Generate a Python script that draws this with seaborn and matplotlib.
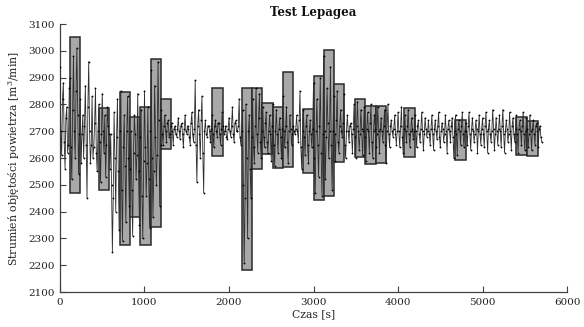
import numpy as np
import pandas as pd
import matplotlib
matplotlib.use("Agg")
import matplotlib.pyplot as plt
import seaborn as sns

# ---- data ----
sample_step = 10  # s
flow = [
    2940, 2700, 2610, 2820, 2880, 2660, 2560, 2750, 2790, 2620, 2650, 2860, 2900, 2640, 2520, 2780, 2980, 2700, 2600, 2850,
    3010, 2760, 2540, 2690, 2820, 2580, 2690, 2760, 2600, 2720, 2870, 2650, 2450, 2790, 2960, 2700, 2580, 2650, 2830, 2600,
    2640, 2730, 2860, 2620, 2550, 2700, 2800, 2660, 2510, 2690, 2840, 2700, 2620, 2760, 2530, 2650, 2790, 2720, 2690, 2560,
    2690, 2500, 2250, 2450, 2770, 2600, 2400, 2680, 2820, 2550, 2330, 2700, 2850, 2480, 2290, 2640, 2760, 2570, 2360, 2700,
    2830, 2600, 2420, 2560, 2700, 2480, 2310, 2620, 2760, 2690, 2520, 2610, 2840, 2550, 2350, 2680, 2780, 2460, 2300, 2590,
    2850, 2640, 2460, 2580, 2790, 2520, 2340, 2700, 2930, 2600, 2380, 2550, 2870, 2680, 2500, 2610, 2960, 2740, 2420, 2650,
    2780, 2690, 2650, 2720, 2760, 2700, 2660, 2730, 2740, 2680, 2690, 2720, 2730, 2700, 2650, 2710, 2720, 2690, 2680, 2710,
    2750, 2700, 2670, 2720, 2730, 2690, 2640, 2710, 2760, 2700, 2690, 2720, 2710, 2680, 2650, 2730, 2770, 2690, 2660, 2710,
    2890, 2650, 2510, 2720, 2780, 2690, 2600, 2740, 2830, 2620, 2470, 2700, 2740, 2690, 2680, 2720, 2720, 2700, 2660, 2710,
    2760, 2690, 2640, 2720, 2740, 2700, 2680, 2730, 2730, 2690, 2650, 2710, 2770, 2720, 2690, 2700, 2720, 2680, 2670, 2710,
    2750, 2700, 2680, 2720, 2790, 2690, 2660, 2730, 2740, 2700, 2700, 2720, 2820, 2680, 2650, 2700, 2780, 2500, 2210, 2450,
    2800, 2600, 2300, 2700, 2760, 2560, 2450, 2680, 2820, 2640, 2580, 2720, 2860, 2690, 2620, 2750, 2840, 2660, 2600, 2700,
    2790, 2680, 2640, 2730, 2770, 2660, 2620, 2700, 2760, 2690, 2590, 2720, 2800, 2650, 2570, 2700, 2780, 2690, 2620, 2710,
    2750, 2680, 2600, 2710, 2830, 2700, 2640, 2720, 2790, 2660, 2580, 2700, 2760, 2710, 2650, 2690, 2720, 2700, 2690, 2710,
    2760, 2700, 2660, 2740, 2850, 2640, 2560, 2700, 2780, 2680, 2610, 2720, 2760, 2650, 2580, 2700, 2740, 2690, 2640, 2710,
    2880, 2600, 2470, 2700, 2820, 2650, 2530, 2720, 2900, 2620, 2460, 2690, 2980, 2700, 2520, 2680, 2860, 2730, 2600, 2700,
    2940, 2650, 2480, 2700, 2830, 2690, 2590, 2740, 2850, 2660, 2620, 2720, 2780, 2700, 2680, 2730, 2840, 2650, 2600, 2700,
    2760, 2700, 2660, 2720, 2730, 2690, 2620, 2710, 2800, 2680, 2600, 2720, 2810, 2700, 2630, 2690, 2780, 2710, 2610, 2700,
    2790, 2680, 2590, 2710, 2770, 2700, 2620, 2730, 2800, 2660, 2600, 2700, 2760, 2710, 2640, 2690, 2790, 2700, 2620, 2710,
    2750, 2700, 2660, 2720, 2780, 2650, 2580, 2700, 2800, 2690, 2640, 2720, 2740, 2700, 2680, 2710, 2760, 2690, 2650, 2700,
    2770, 2700, 2640, 2720, 2790, 2680, 2620, 2710, 2760, 2700, 2660, 2720, 2780, 2690, 2640, 2700, 2750, 2710, 2670, 2700,
    2760, 2700, 2640, 2720, 2740, 2690, 2660, 2710, 2770, 2700, 2630, 2690, 2750, 2710, 2680, 2700, 2740, 2690, 2650, 2710,
    2760, 2690, 2630, 2710, 2740, 2700, 2670, 2720, 2770, 2680, 2640, 2700, 2730, 2710, 2660, 2690, 2760, 2700, 2620, 2710,
    2740, 2700, 2660, 2720, 2750, 2680, 2600, 2700, 2760, 2690, 2610, 2710, 2740, 2700, 2650, 2720, 2770, 2690, 2640, 2700,
    2730, 2700, 2650, 2720, 2770, 2690, 2630, 2710, 2750, 2700, 2660, 2690, 2740, 2710, 2620, 2700, 2760, 2690, 2650, 2710,
    2750, 2690, 2640, 2720, 2770, 2700, 2620, 2710, 2740, 2690, 2660, 2700, 2780, 2710, 2630, 2690, 2750, 2700, 2650, 2710,
    2760, 2700, 2640, 2720, 2780, 2690, 2620, 2700, 2740, 2710, 2660, 2690, 2770, 2700, 2630, 2720, 2750, 2690, 2660, 2710,
    2760, 2690, 2620, 2710, 2740, 2700, 2650, 2720, 2770, 2690, 2630, 2700, 2750, 2710, 2640, 2690, 2760, 2700, 2630, 2710,
    2740, 2690, 2650, 2720, 2730, 2700, 2640, 2710, 2720, 2680, 2660,
]

box_start = [120, 460, 705, 830, 950, 1075, 1195, 1800, 2150, 2275, 2395, 2515,
             2635, 2880, 3000, 3120, 3245, 3485, 3610, 3735, 4070, 4675, 5400, 5530]
box_end = [240, 585, 830, 950, 1075, 1195, 1315, 1925, 2275, 2395, 2515, 2635,
           2755, 3000, 3120, 3240, 3365, 3610, 3735, 3855, 4195, 4805, 5530, 5655]
box_low = [2470, 2480, 2275, 2380, 2277, 2343, 2633, 2607, 2183, 2560, 2614, 2561,
           2567, 2545, 2443, 2457, 2586, 2604, 2576, 2583, 2605, 2592, 2613, 2608]
box_high = [3052, 2786, 2845, 2752, 2792, 2970, 2820, 2860, 2860, 2860, 2805, 2790,
            2921, 2782, 2905, 3004, 2875, 2822, 2795, 2795, 2787, 2743, 2754, 2739]

title = "Test Lepagea"
xlabel = "Czas [s]"
ylabel = "Strumień objętości powietrza [m$^3$/min]"
xticks = [0, 1000, 2000, 3000, 4000, 5000, 6000]
yticks = [2100, 2200, 2300, 2400, 2500, 2600, 2700, 2800, 2900, 3000, 3100]

# ---- plotting ----
sns.set_style("ticks")
plt.rcParams["font.family"] = ["DejaVu Serif"]
plt.rcParams["mathtext.fontset"] = "dejavuserif"

fig = plt.figure(figsize=(5.84, 3.27), dpi=100)
ax = fig.add_axes([0.1027, 0.107, 0.8683, 0.8196])

df = pd.DataFrame({"t": np.arange(len(flow)) * sample_step, "q": flow})

starts = np.array(box_start)
widths = np.array(box_end) - starts
lows = np.array(box_low)
heights = np.array(box_high) - lows
ax.bar(starts, heights, width=widths, bottom=lows, align="edge",
       color="#a8a8a8", edgecolor="#2a2a2a", linewidth=1.1, zorder=2)

sns.lineplot(data=df, x="t", y="q", ax=ax, estimator=None, color="#2e2e2e",
             linewidth=0.6, marker=".", markersize=2.6, markeredgewidth=0,
             markerfacecolor="#000000", zorder=3)

ax.set_xlim(0, 6000)
ax.set_ylim(2100, 3100)
ax.set_xticks(xticks)
ax.set_yticks(yticks)
ax.tick_params(direction="in", length=4, width=0.8, colors="#404040",
               labelcolor="#222222", labelsize=7.5, pad=4)
for side in ["top", "right"]:
    ax.spines[side].set_visible(False)
for side in ["left", "bottom"]:
    ax.spines[side].set_color("#404040")
    ax.spines[side].set_linewidth(0.9)

ax.set_title(title, fontsize=8.5, fontweight="bold", pad=6, color="#111111")
ax.set_xlabel(xlabel, fontsize=7.8, labelpad=2, color="#222222")
ax.set_ylabel(ylabel, fontsize=7.8, labelpad=4, color="#222222")

fig.savefig("out.png", dpi=100)
